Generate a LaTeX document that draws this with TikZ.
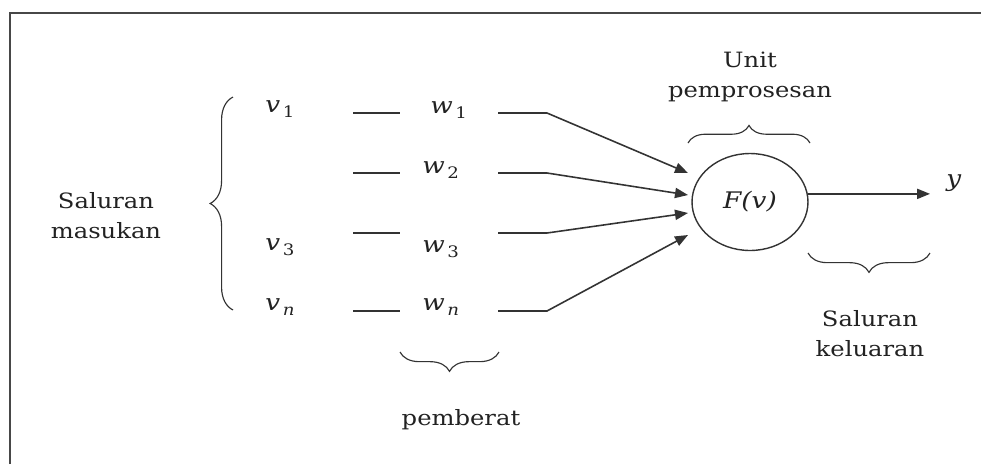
\documentclass[tikz,border=0pt]{standalone}
\usepackage{fontspec}
\setmainfont{DejaVu Serif}[FakeStretch=1.15]
\usetikzlibrary{arrows.meta, positioning, calc, shapes.geometric, decorations.pathreplacing}
\definecolor{InkGray}{HTML}{333333}
\definecolor{TextInk}{HTML}{222222}
\definecolor{FrameGray}{HTML}{474747}
\newcommand{\lowsub}[1]{\kern1.5pt\raisebox{-3pt}{\fontsize{9}{10}\selectfont #1}}

\tikzset{
  wire/.style={line width=0.9pt, color=InkGray},
  arrowwire/.style={wire, -{Triangle[length=7.4pt, width=5.8pt]}},
  curly/.style={decorate, decoration={brace, amplitude=#1}, line width=0.65pt, color=InkGray},
  caption/.style={font=\fontsize{12}{17}\selectfont, align=center, text=TextInk},
  symb/.style={font=\fontsize{13}{15}\selectfont\itshape, text=TextInk, inner sep=0pt},
}

\begin{document}
\begin{tikzpicture}[x=0.02cm, y=-0.02cm]
  \useasboundingbox (0,0) rectangle (981,464);
  \draw[line width=1.4pt, color=FrameGray] (10,464) -- (10,13) -- (981,13);

  % input and weight symbols
  \node[symb, anchor=base west] (v1) at (265,112) {v\lowsub{\upshape 1}};
  \node[symb, anchor=base west] (v3) at (265,250) {v\lowsub{\upshape 3}};
  \node[symb, anchor=base west] (vn) at (265,310) {v\lowsub{n}};
  \node[symb, anchor=base west] (w1) at (430,113) {w\lowsub{\upshape 1}};
  \node[symb, anchor=base west] (w2) at (422,173) {w\lowsub{\upshape 2}};
  \node[symb, anchor=base west] (w3) at (422,252) {w\lowsub{\upshape 3}};
  \node[symb, anchor=base west] (wn) at (422,310) {w\lowsub{n}};

  \node[draw=InkGray, line width=0.8pt, ellipse, minimum width=2.32cm, minimum height=1.94cm,
        symb, inner sep=0pt] (fv) at (750,202) {F(v)};

  \foreach \r/\yy/\tip in {1/113/173, 2/173/195, 3/233/213, 4/311/235} {
    \coordinate (a\r) at (353,\yy);
    \coordinate (b\r) at (400,\yy);
    \coordinate (c\r) at (498,\yy);
    \coordinate (d\r) at (547,\yy);
    \coordinate (t\r) at (688,\tip);
    \draw[wire] (a\r) -- (b\r);
    \draw[arrowwire] (c\r) -- (d\r) -- (t\r);
  }

  \coordinate (yend) at (930,0);
  \draw[arrowwire] (fv.8) -- (fv.8 -| yend);
  \node[symb, anchor=base west] (yout) at (946,186) {y};

  % braces and captions
  \draw[curly=13pt] (233,310) -- (233,97);
  \node[caption] (masuk) at (106,216) {Saluran\\masukan};

  \draw[curly=10pt] (688,143) -- (810,143);
  \node[caption] (unit) at (750,77) {Unit\\pemprosesan};

  \draw[curly=11pt] (930,253) -- (808,253);
  \node[caption] (keluar) at (870,334) {Saluran\\keluaran};

  \draw[curly=11pt] (499,352) -- (400,352);
  \node[caption, anchor=base] (berat) at (461,425) {pemberat};
\end{tikzpicture}
\end{document}
